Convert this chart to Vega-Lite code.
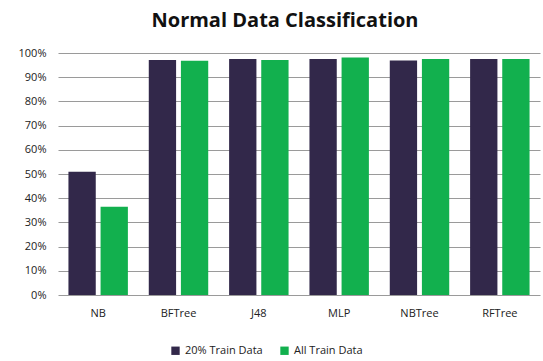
{
  "$schema": "https://vega.github.io/schema/vega-lite/v6.json",
  "autosize": {"type": "none"},
  "width": 482,
  "height": 242,
  "padding": {"left": 58, "top": 53, "right": 3, "bottom": 66},
  "background": "white",
  "title": {"text": "Normal Data Classification", "font": "Open Sans", "fontSize": 20, "fontWeight": "bold", "color": "#111111", "anchor": "middle", "offset": 16, "dx": -14},
  "data": {"values": [
    {"model": "NB", "series": "20% Train Data", "value": 0.509},
    {"model": "NB", "series": "All Train Data", "value": 0.365},
    {"model": "BFTree", "series": "20% Train Data", "value": 0.971},
    {"model": "BFTree", "series": "All Train Data", "value": 0.968},
    {"model": "J48", "series": "20% Train Data", "value": 0.975},
    {"model": "J48", "series": "All Train Data", "value": 0.971},
    {"model": "MLP", "series": "20% Train Data", "value": 0.975},
    {"model": "MLP", "series": "All Train Data", "value": 0.981},
    {"model": "NBTree", "series": "20% Train Data", "value": 0.969},
    {"model": "NBTree", "series": "All Train Data", "value": 0.975},
    {"model": "RFTree", "series": "20% Train Data", "value": 0.975},
    {"model": "RFTree", "series": "All Train Data", "value": 0.975}
  ]},
  "mark": {"type": "bar"},
  "encoding": {
    "x": {"field": "model", "type": "nominal", "sort": null,
      "scale": {"paddingInner": 0.26, "paddingOuter": 0.13},
      "axis": {"title": null, "labelAngle": 0, "domain": false, "ticks": false, "labelFont": "Open Sans", "labelFontSize": 11, "labelColor": "#222222", "labelPadding": 12}},
    "xOffset": {"field": "series", "type": "nominal", "scale": {"paddingInner": 0.15}},
    "y": {"field": "value", "type": "quantitative",
      "scale": {"domain": [0, 1]},
      "axis": {"title": null, "format": ".0%", "values": [0,0.1,0.2,0.3,0.4,0.5,0.6,0.7,0.8,0.9,1.0], "labelOverlap": false, "domain": false, "ticks": false, "gridColor": "#9a9a9a", "gridWidth": 1.2, "labelFont": "Open Sans", "labelFontSize": 11, "labelColor": "#222222", "labelPadding": 12}},
    "color": {"field": "series", "type": "nominal",
      "scale": {"domain": ["20% Train Data", "All Train Data"], "range": ["#32284a", "#12b04e"]},
      "legend": {"title": null, "orient": "none", "legendX": 112, "legendY": 292, "direction": "horizontal", "symbolType": "square", "symbolSize": 70, "labelFont": "Open Sans", "labelFontSize": 11, "labelColor": "#222222", "columnPadding": 16}}
  },
  "config": {"view": {"stroke": null}}
}
